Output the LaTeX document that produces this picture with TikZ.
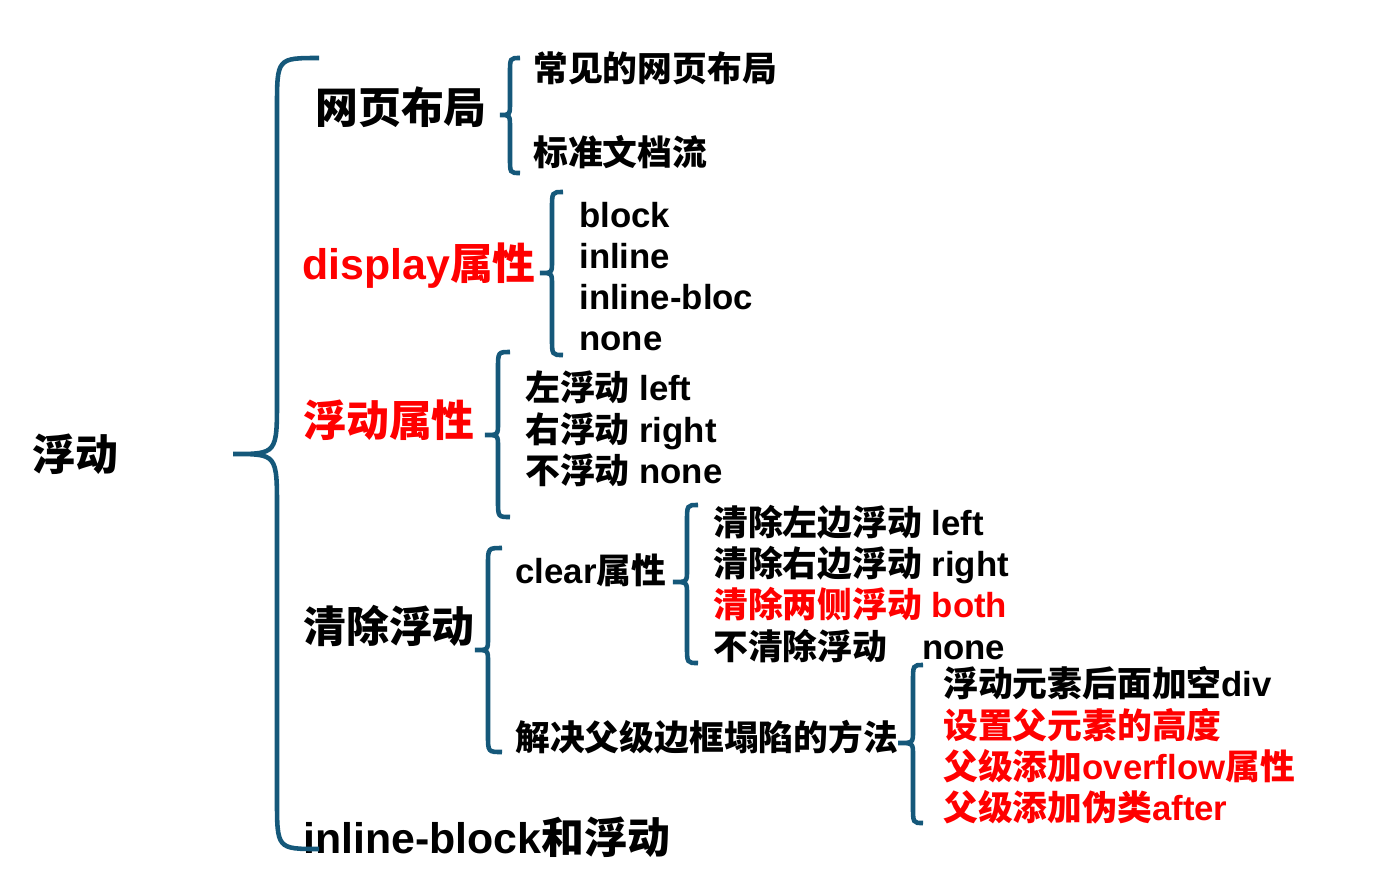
\documentclass[tikz,border=0pt]{standalone}
\usepackage{fontspec}
\setmainfont{Liberation Sans}
\newfontfamily\zhfont{Noto Sans CJK SC}
\newcommand{\zh}[1]{{\zhfont #1}}
\definecolor{bracecol}{RGB}{21,88,122}
\newcommand{\curlybrace}[8]{%
	\draw[bracestroke] (#2,#4) .. controls (#1,#4) .. (#1,#4+#7) -- (#1,#5-#8) .. controls (#1,#5) .. (#3,#5) .. controls (#1,#5) .. (#1,#5+#8) -- (#1,#6-#7) .. controls (#1,#6) .. (#2,#6);}
\begin{document}
\begin{tikzpicture}[x=0.02cm, y=-0.02cm,
	bracestroke/.style={draw=bracecol, line width=2.6pt},
	big/.style={anchor=west, inner sep=0pt, text height=21.5pt, text depth=2.9pt, font=\fontsize{24.4pt}{29pt}\selectfont\bfseries},
	small/.style={anchor=west, inner sep=0pt, text height=17.4pt, text depth=2.4pt, font=\fontsize{19.8pt}{24pt}\selectfont\bfseries}]
		\useasboundingbox (0,0) rectangle (1393,877);
		\node[big] (root) at (32,454){\zh{浮动}};
		\node[big] (layout) at (315,107){\zh{网页布局}};
		\node[small] (layout1) at (533,68){\zh{常见的网页布局}};
		\node[small] (layout2) at (533,152){\zh{标准文档流}};
		\node[big, red] (display) at (302,263){display\zh{属性}};
		\node[small] (display1) at (579,214){block};
		\node[small] (display2) at (579,255){inline};
		\node[small] (display3) at (579,296){inline-bloc};
		\node[small] (display4) at (579,337){none};
		\node[big, red] (floatp) at (303,420){\zh{浮动属性}};
		\node[small] (floatp1) at (525,387){\zh{左浮动} left};
		\node[small] (floatp2) at (525,429){\zh{右浮动} right};
		\node[small] (floatp3) at (525,470){\zh{不浮动} none};
		\node[big] (clearf) at (303,626){\zh{清除浮动}};
		\node[small] (clear) at (515,570){clear\zh{属性}};
		\node[small] (clear1) at (713,522){\zh{清除左边浮动} left};
		\node[small] (clear2) at (713,563){\zh{清除右边浮动} right};
		\node[small, red] (clear3) at (713,604){\zh{清除两侧浮动} both};
		\node[small] (clear4) at (713,646){\zh{不清除浮动}\quad{}none};
		\node[small] (fix) at (515,737){\zh{解决父级边框塌陷的方法}};
		\node[small] (fix1) at (943,683){\zh{浮动元素后面加空}div};
		\node[small, red] (fix2) at (943,725){\zh{设置父元素的高度}};
		\node[small, red] (fix3) at (943,766){\zh{父级添加}overflow\zh{属性}};
		\node[small, red] (fix4) at (943,807){\zh{父级添加伪类}after};
		\node[big] (ibf) at (303,837){inline-block\zh{和浮动}};
		\curlybrace{277}{319}{233}{58}{454}{849}{50}{55}
		\curlybrace{510}{520}{500}{58}{115}{173}{15}{13}
		\curlybrace{552}{563}{540}{192}{273}{355}{17}{12}
		\curlybrace{498}{510}{485}{352}{435}{517}{17}{12}
		\curlybrace{488}{502}{475}{548}{650}{752}{17}{12}
		\curlybrace{687}{698}{673}{505}{582}{663}{17}{12}
		\curlybrace{913}{923}{898}{665}{743}{823}{17}{12}
	\end{tikzpicture}
\end{document}
